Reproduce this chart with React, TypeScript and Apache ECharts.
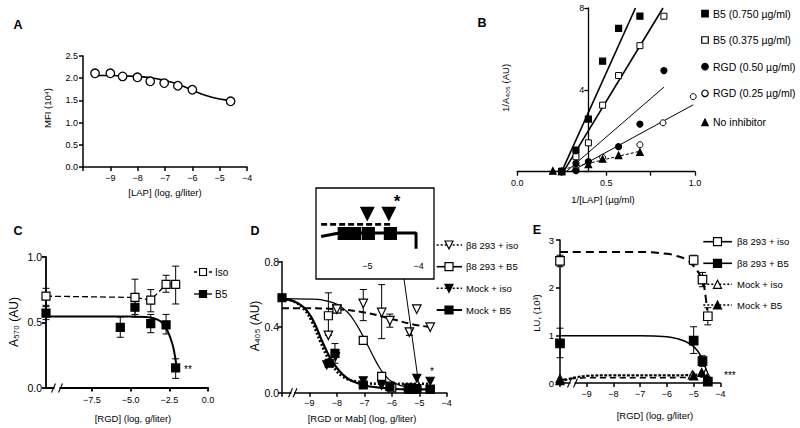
import React, { useEffect, useRef } from 'react';
import * as echarts from 'echarts';

const FONT = '"Liberation Sans", Arial, sans-serif';
const MINUS = '\u2212';

// ---------- Panel A ----------
const aLogLap = [-9.56, -9.0, -8.55, -8.01, -7.54, -7.03, -6.53, -6.0, -4.6];
const aMfi = [2.11, 2.11, 2.04, 2.02, 1.93, 1.89, 1.83, 1.74, 1.48];
const aFitX = [-9.56, -9, -8.5, -8, -7.5, -7, -6.5, -6, -5.5, -5, -4.6];
const aFitY = [2.06, 2.06, 2.05, 2.04, 2.01, 1.95, 1.86, 1.73, 1.61, 1.53, 1.5];

// ---------- Panel B ----------
const bB5hiX = [0.25, 0.33, 0.4, 0.48, 0.57, 0.69];
const bB5hiY = [0.0, 1.06, 2.57, 5.4, 7.0, 7.6];
const bB5loX = [0.25, 0.33, 0.4, 0.48, 0.57, 0.69, 0.825];
const bB5loY = [0.03, 0.73, 1.41, 3.25, 4.7, 6.16, 7.6];
const bRgd50X = [0.25, 0.33, 0.33, 0.4, 0.57, 0.69, 0.825];
const bRgd50Y = [0.0, 0.05, 0.41, 0.49, 1.22, 2.33, 4.94];
const bRgd25X = [0.33, 0.48, 0.69, 0.82, 0.99];
const bRgd25Y = [0.12, 0.7, 1.32, 2.39, 3.67];
const bNoInhX = [0.2, 0.25, 0.4, 0.48, 0.57, 0.69];
const bNoInhY = [0.04, 0.02, 0.36, 0.62, 0.8, 0.96];
const bFitB5hiX = [0.25, 0.665];
const bFitB5hiY = [0, 8];
const bFitB5loX = [0.26, 0.82];
const bFitB5loY = [0, 8];
const bFitRgd50X = [0.275, 0.825];
const bFitRgd50Y = [0, 4.13];
const bFitRgd25X = [0.3, 0.99];
const bFitRgd25Y = [0, 3.27];
const bFitNoInhX = [0.2, 0.69];
const bFitNoInhY = [0, 1.0];
const bLegend = ['B5 (0.750 \u00b5g/ml)', 'B5 (0.375 \u00b5g/ml)', 'RGD (0.50 \u00b5g/ml)', 'RGD (0.25 \u00b5g/ml)', 'No inhibitor'];

// ---------- Panel C ----------
const cXTicks = [-7.5, -5, -2.5, 0];
const cIsoX = [-10.47, -4.72, -3.7, -2.71, -2.09];
const cIsoY = [0.7, 0.69, 0.67, 0.79, 0.79];
const cIsoLo = [0.63, 0.54, 0.58, 0.73, 0.64];
const cIsoHi = [0.76, 0.83, 0.75, 0.86, 0.93];
const cB5X = [-10.47, -5.67, -4.72, -3.7, -2.71, -2.09];
const cB5Y = [0.57, 0.46, 0.615, 0.49, 0.48, 0.15];
const cB5Lo = [0.52, 0.385, 0.56, 0.42, 0.41, 0.07];
const cB5Hi = [0.62, 0.54, 0.66, 0.56, 0.56, 0.22];
const cFitX = [-10.47, -5, -4, -3.5, -3.1, -2.8, -2.6, -2.4, -2.25, -2.12, -2.05];
const cFitY = [0.545, 0.545, 0.54, 0.53, 0.51, 0.47, 0.43, 0.37, 0.31, 0.23, 0.17];
const cLegend = ['Iso', 'B5'];

// ---------- Panel D ----------
const dIsoX = [-8.31, -8.0, -7.04, -6.37, -6.07, -5.36, -5.09, -4.6];
const dIsoY = [0.35, 0.51, 0.545, 0.49, 0.44, 0.37, 0.51, 0.4];
const dB5X = [-8.31, -8.0, -7.04, -6.37, -6.0, -5.36, -5.09, -4.6];
const dB5Y = [0.47, 0.51, 0.32, 0.1, 0.03, 0.02, 0.02, 0.02];
const dMockIsoX = [-8.37, -8.05, -7.04, -6.37, -6.07, -5.36, -5.09, -4.6];
const dMockIsoY = [0.17, 0.22, 0.073, 0.045, 0.04, 0.03, 0.088, 0.07];
const dMockB5X = [-10, -8.28, -8.07, -7.04, -6.07, -5.4, -5.09, -4.6];
const dMockB5Y = [0.58, 0.18, 0.24, 0.047, 0.037, 0.027, 0.025, 0.02];
const dErrX = [-8.31, -8.07, -7.04, -6.37, -6.07, -5.36];
const dErrLo = [0.35, 0.18, 0.44, 0.33, 0.4, 0.35];
const dErrHi = [0.61, 0.3, 0.63, 0.66, 0.48, 0.39];
const dIsoFitX = [-10, -9, -8, -7, -6, -5.3, -4.6];
const dIsoFitY = [0.515, 0.515, 0.51, 0.49, 0.45, 0.42, 0.4];
const dB5FitX = [-10, -9, -8.5, -8, -7.6, -7.3, -7.0, -6.7, -6.4, -6.1, -5.7, -5.2];
const dB5FitY = [0.575, 0.572, 0.565, 0.54, 0.49, 0.42, 0.33, 0.23, 0.14, 0.08, 0.045, 0.03];
const dMockB5FitX = [-10, -9.6, -9.2, -8.86, -8.5, -8.13, -7.64, -7.04, -6.4, -5.5, -4.6];
const dMockB5FitY = [0.575, 0.56, 0.52, 0.44, 0.3, 0.18, 0.09, 0.047, 0.03, 0.02, 0.02];
const dMockIsoFitX = [-10, -9.6, -9.2, -8.9, -8.6, -8.25, -7.8, -7.2, -6.5, -5.5, -4.6];
const dMockIsoFitY = [0.575, 0.56, 0.51, 0.43, 0.31, 0.19, 0.1, 0.065, 0.055, 0.055, 0.055];
const dLegend = ['\u03b28 293 + iso', '\u03b28 293 + B5', 'Mock + iso', 'Mock + B5'];

// inset of D (zoom on -6 .. -4)
const inTicks = [-5, -4];
const inDashX = [-5.9, -4.5];
const inDashY = [0.04, 0.04];
const inSolidX = [-5.9, -5.6, -5.3, -4.05, -4.05];
const inSolidY = [0.0, 0.01, 0.012, 0.012, -0.04];
const inSqX = [-5.45, -5.25, -4.98, -4.55];
const inSqY = [0.01, 0.01, 0.01, 0.01];
const inTriX = [-5.0, -4.58];
const inTriY = [0.075, 0.075];

// ---------- Panel E ----------
const eIsoX = [-10, -5.0, -4.67, -4.47];
const eIsoY = [2.56, 2.58, 2.17, 1.4];
const eIsoLo = [2.44, 2.48, 2.02, 1.22];
const eIsoHi = [2.68, 2.68, 2.32, 1.58];
const eB5X = [-10, -5.0, -4.67, -4.47];
const eB5Y = [0.83, 0.89, 0.46, 0.03];
const eB5Lo = [0.53, 0.62, 0.35, 0.0];
const eB5Hi = [1.15, 1.18, 0.57, 0.06];
const eMockIsoX = [-10, -5.05, -4.55];
const eMockIsoY = [0.09, 0.17, 0.21];
const eMockB5X = [-10, -5.0, -4.7, -4.5];
const eMockB5Y = [0.05, 0.15, 0.22, 0.1];
const eIsoFitX = [-10, -7, -6, -5.6, -5.25, -5.0, -4.8, -4.65, -4.55, -4.5];
const eIsoFitY = [2.75, 2.75, 2.71, 2.66, 2.58, 2.45, 2.3, 2.12, 1.8, 1.53];
const eB5FitX = [-10, -7, -6, -5.6, -5.3, -5.05, -4.85, -4.7, -4.6, -4.5];
const eB5FitY = [0.99, 0.99, 0.97, 0.93, 0.87, 0.79, 0.67, 0.53, 0.4, 0.22];
const eMockB5FitX = [-10, -9.7, -9.4, -9, -8, -6, -5, -4.6];
const eMockB5FitY = [0.03, 0.08, 0.12, 0.15, 0.16, 0.16, 0.17, 0.2];
const eMockIsoFitX = [-10, -9.7, -9.3, -9, -7, -5, -4.6];
const eMockIsoFitY = [0.06, 0.09, 0.1, 0.11, 0.11, 0.12, 0.14];
const eLegend = ['\u03b28 293 + iso', '\u03b28 293 + B5', 'Mock + iso', 'Mock + B5'];

const fmtNum = (v: number, d = 0) => (v < 0 ? MINUS : '') + Math.abs(v).toFixed(d);
const pairs = (xs: number[], ys: number[]) => xs.map((x, i) => [x, ys[i]]);

function scatter(idx: number, xs: number[], ys: number[], symbol: string, size: number, filled: boolean, rotate = 0, bw = 1.2) {
  return {
    type: 'scatter', xAxisIndex: idx, yAxisIndex: idx, z: 6, clip: false,
    data: pairs(xs, ys), symbol, symbolSize: size, symbolRotate: rotate,
    itemStyle: { color: filled ? '#000' : '#fff', borderColor: '#000', borderWidth: bw, opacity: 1 },
  };
}
function line(idx: number, xs: number[], ys: number[], width: number, type: any, smooth: boolean | number = 0.4) {
  return {
    type: 'line', xAxisIndex: idx, yAxisIndex: idx, z: 4, clip: false,
    data: pairs(xs, ys), showSymbol: false, symbol: 'none', smooth,
    lineStyle: { color: '#000', width, type },
  };
}
function errs(idx: number, xs: number[], lo: number[], hi: number[], cap = 3.5) {
  return {
    type: 'custom', xAxisIndex: idx, yAxisIndex: idx, z: 3, clip: false,
    data: xs.map((x, i) => [x, lo[i], hi[i]]),
    encode: { x: 0, y: [1, 2] },
    renderItem: (_p: any, api: any) => {
      const x = api.value(0);
      const p1 = api.coord([x, api.value(2)]);
      const p2 = api.coord([x, api.value(1)]);
      const st = { stroke: '#000', lineWidth: 1 };
      return {
        type: 'group',
        children: [
          { type: 'line', shape: { x1: p1[0], y1: p1[1], x2: p2[0], y2: p2[1] }, style: st },
          { type: 'line', shape: { x1: p1[0] - cap, y1: p1[1], x2: p1[0] + cap, y2: p1[1] }, style: st },
          { type: 'line', shape: { x1: p2[0] - cap, y1: p2[1], x2: p2[0] + cap, y2: p2[1] }, style: st },
        ],
      };
    },
  };
}

const axisBase = (w: number, fs: number, margin = 5) => ({
  axisLine: { show: true, onZero: false, lineStyle: { color: '#000', width: w } },
  axisTick: { show: true, length: 4, inside: false, lineStyle: { color: '#000', width: w } },
  axisLabel: { color: '#000', fontSize: fs, fontFamily: FONT, margin },
  splitLine: { show: false },
});

function txt(x: number, y: number, text: string, size: number, opts: any = {}) {
  return {
    type: 'text', x, y, z: 50, rotation: opts.rotation || 0,
    style: {
      text, fill: '#000', font: `${opts.bold ? 'bold ' : ''}${size}px ${FONT}`,
      textAlign: opts.align || 'left', align: opts.align || 'left',
      textVerticalAlign: 'middle', verticalAlign: 'middle',
    },
  };
}
function marker(cx: number, cy: number, kind: string, filled: boolean, s: number) {
  const style = { fill: filled ? '#000' : '#fff', stroke: '#000', lineWidth: 1.2 };
  if (kind === 'rect') return { type: 'rect', z: 51, shape: { x: cx - s / 2, y: cy - s / 2, width: s, height: s }, style };
  if (kind === 'circle') return { type: 'circle', z: 51, shape: { cx, cy, r: s / 2 }, style };
  if (kind === 'tri') return { type: 'polygon', z: 51, shape: { points: [[cx, cy - s / 2], [cx + s / 2, cy + s / 2], [cx - s / 2, cy + s / 2]] }, style };
  return { type: 'polygon', z: 51, shape: { points: [[cx - s / 2, cy - s / 2], [cx + s / 2, cy - s / 2], [cx, cy + s / 2]] }, style };
}
function seg(x1: number, y1: number, x2: number, y2: number, w = 1.3, dash: any = null) {
  return { type: 'line', z: 50, shape: { x1, y1, x2, y2 }, style: { stroke: '#000', lineWidth: w, lineDash: dash } };
}
function axisBreak(xa: number, xb: number, y: number) {
  return [
    { type: 'rect', shape: { x: xa + 1.5, y: y - 2.5, width: xb - xa - 3, height: 5 }, style: { fill: '#fff' } },
    seg(xa - 1.5, y + 4.5, xa + 2.5, y - 4.5, 1.1),
    seg(xb - 2.5, y + 4.5, xb + 1.5, y - 4.5, 1.1),
  ].map((e: any) => ({ ...e, z: 60 }));
}

function buildOption(): any {
  const logFmt = (v: number) => (v <= -10 ? '' : fmtNum(v));
  const grids = [
    { left: 83, top: 56, width: 164, height: 111 },
    { left: 517.3, top: 8, width: 177.7, height: 163.7 },
    { left: 46, top: 257, width: 162, height: 130.5 },
    { left: 282, top: 261.7, width: 164.7, height: 131 },
    { left: 560, top: 240, width: 160.4, height: 143 },
    { left: 316, top: 188, width: 118, height: 91, show: true, borderColor: '#000', borderWidth: 1.3, backgroundColor: '#fff' },
  ].map((g) => ({ ...g, containLabel: false, outerBoundsMode: 'none' }));

  const xAxis = [
    { gridIndex: 0, type: 'value', min: -10, max: -4, interval: 1, ...axisBase(1.5, 9), axisLabel: { ...axisBase(1.5, 9, 6).axisLabel, formatter: logFmt } },
    { gridIndex: 1, type: 'value', min: 0, max: 1, interval: 0.25, ...axisBase(1.3, 9), axisLabel: { ...axisBase(1.3, 9, 7).axisLabel, formatter: (v: number) => (Math.abs(v * 2 - Math.round(v * 2)) < 1e-6 ? v.toFixed(1) : '') } },
    { gridIndex: 2, type: 'value', min: -10.47, max: 0, ...axisBase(1.8, 9),
      axisTick: { ...axisBase(1.8, 9).axisTick, customValues: cXTicks },
      axisLabel: { ...axisBase(1.8, 9, 8).axisLabel, customValues: cXTicks, formatter: (v: number) => fmtNum(v, 1) } },
    { gridIndex: 3, type: 'value', min: -10, max: -4, interval: 1, ...axisBase(1.5, 9), axisLabel: { ...axisBase(1.5, 9, 6).axisLabel, formatter: logFmt } },
    { gridIndex: 4, type: 'value', min: -10, max: -4, interval: 1, ...axisBase(1.5, 9), axisLabel: { ...axisBase(1.5, 9, 6).axisLabel, formatter: logFmt } },
    { gridIndex: 5, type: 'value', min: -6, max: -3.7, z: 20, axisLine: { show: false }, splitLine: { show: false },
      axisTick: { show: false, customValues: inTicks },
      axisLabel: { inside: true, margin: 9, color: '#000', fontSize: 9, fontFamily: FONT, customValues: inTicks, formatter: (v: number) => fmtNum(v) } },
  ];
  const yAxis = [
    { gridIndex: 0, type: 'value', min: 0, max: 2.5, interval: 0.5, ...axisBase(1.5, 9), axisLabel: { ...axisBase(1.5, 9).axisLabel, formatter: (v: number) => v.toFixed(1) } },
    { gridIndex: 1, type: 'value', min: 0, max: 8, interval: 4, offset: -71, ...axisBase(1.3, 9), axisLabel: { ...axisBase(1.3, 9, 4).axisLabel, formatter: (v: number) => (v === 0 ? '' : String(v)) } },
    { gridIndex: 2, type: 'value', min: 0, max: 1, interval: 0.5, ...axisBase(1.8, 10.5), axisLabel: { ...axisBase(1.8, 10.5, 4).axisLabel, formatter: (v: number) => v.toFixed(1) } },
    { gridIndex: 3, type: 'value', min: 0, max: 0.8, interval: 0.4, ...axisBase(1.5, 10.5), axisLabel: { ...axisBase(1.5, 10.5, 3).axisLabel, formatter: (v: number) => v.toFixed(1) } },
    { gridIndex: 4, type: 'value', min: 0, max: 3, interval: 1, ...axisBase(1.5, 9.5), axisLabel: { ...axisBase(1.5, 9.5, 6).axisLabel } },
    { gridIndex: 5, type: 'value', min: -0.14, max: 0.16, show: false },
  ];

  const series: any[] = [
    // A
    line(0, aFitX, aFitY, 1.6, 'solid', 0.5),
    scatter(0, aLogLap, aMfi, 'circle', 8.5, false, 0, 1.3),
    // B
    line(1, bFitB5hiX, bFitB5hiY, 1.6, 'solid', false),
    line(1, bFitB5loX, bFitB5loY, 1.6, 'solid', false),
    line(1, bFitRgd50X, bFitRgd50Y, 1, 'solid', false),
    line(1, bFitRgd25X, bFitRgd25Y, 1, 'solid', false),
    line(1, bFitNoInhX, bFitNoInhY, 1, [3, 2], false),
    scatter(1, bB5loX, bB5loY, 'rect', 6, false, 0, 1),
    scatter(1, bRgd25X, bRgd25Y, 'circle', 6, false, 0, 1),
    scatter(1, bRgd50X, bRgd50Y, 'circle', 6, true),
    scatter(1, bNoInhX, bNoInhY, 'triangle', 6.5, true),
    scatter(1, bB5hiX, bB5hiY, 'rect', 6, true),
    // C
    line(2, cIsoX, cIsoY, 1.3, [6, 3], false),
    line(2, cFitX, cFitY, 2, 'solid', 0.4),
    errs(2, cIsoX, cIsoLo, cIsoHi),
    errs(2, cB5X, cB5Lo, cB5Hi),
    scatter(2, cB5X, cB5Y, 'rect', 8, true),
    scatter(2, cIsoX, cIsoY, 'rect', 8, false),
    // D
    line(3, dIsoFitX, dIsoFitY, 2, [7, 4], 0.4),
    line(3, dB5FitX, dB5FitY, 1.2, 'solid', 0.4),
    line(3, dMockIsoFitX, dMockIsoFitY, 2.6, [2, 2], 0.4),
    line(3, dMockB5FitX, dMockB5FitY, 2.2, 'solid', 0.4),
    errs(3, dErrX, dErrLo, dErrHi),
    scatter(3, dB5X, dB5Y, 'rect', 8, false),
    scatter(3, dIsoX, dIsoY, 'triangle', 8.5, false, 180),
    scatter(3, dMockIsoX, dMockIsoY, 'triangle', 8, true, 180),
    scatter(3, dMockB5X, dMockB5Y, 'rect', 8, true),
    // inset
    line(5, inDashX, inDashY, 2.6, [6, 3], false),
    line(5, inSolidX, inSolidY, 3, 'solid', false),
    scatter(5, inSqX, inSqY, 'rect', 12, true),
    scatter(5, inTriX, inTriY, 'triangle', 13, true, 180),
    // E
    line(4, eIsoFitX, eIsoFitY, 2, [8, 5], 0.4),
    line(4, eB5FitX, eB5FitY, 1.6, 'solid', 0.4),
    line(4, eMockIsoFitX, eMockIsoFitY, 1.6, [6, 4], 0.4),
    line(4, eMockB5FitX, eMockB5FitY, 2.2, [3, 1.5], 0.4),
    errs(4, eIsoX, eIsoLo, eIsoHi),
    errs(4, eB5X, eB5Lo, eB5Hi),
    scatter(4, eMockIsoX, eMockIsoY, 'triangle', 8, false),
    scatter(4, eMockB5X, eMockB5Y, 'triangle', 8, true),
    scatter(4, eB5X, eB5Y, 'rect', 8.5, true),
    scatter(4, eIsoX, eIsoY, 'rect', 8.5, false),
  ];

  const g: any[] = [];
  // panel letters
  g.push(txt(18, 25, 'A', 12.5, { bold: true, align: 'center' }));
  g.push(txt(482, 23, 'B', 12.5, { bold: true, align: 'center' }));
  g.push(txt(18, 231, 'C', 12.5, { bold: true, align: 'center' }));
  g.push(txt(255, 231, 'D', 12.5, { bold: true, align: 'center' }));
  g.push(txt(537, 230, 'E', 12.5, { bold: true, align: 'center' }));
  // axis titles
  g.push(txt(47, 108, 'MFI (10\u2074)', 9.5, { rotation: Math.PI / 2, align: 'center' }));
  g.push(txt(165, 192, '[LAP] (log, g/liter)', 9.5, { align: 'center' }));
  g.push(txt(505, 88, '1/A\u2084\u2080\u2085 (AU)', 9.5, { rotation: Math.PI / 2, align: 'center' }));
  g.push(txt(603, 199, '1/[LAP] (\u00b5g/ml)', 9.5, { align: 'center' }));
  g.push(txt(14, 322, 'A\u2085\u2087\u2080 (AU)', 12, { rotation: Math.PI / 2, align: 'center' }));
  g.push(txt(133, 418, '[RGD] (log, g/liter)', 9.5, { align: 'center' }));
  g.push(txt(255, 326, 'A\u2084\u2080\u2085 (AU)', 12, { rotation: Math.PI / 2, align: 'center' }));
  g.push(txt(362, 418, '[RGD or Mab] (log, g/liter)', 9.5, { align: 'center' }));
  g.push(txt(536, 313, 'LU, (10\u00b3)', 9.5, { rotation: Math.PI / 2, align: 'center' }));
  g.push(txt(655, 415, '[RGD] (log, g/liter)', 9.5, { align: 'center' }));
  // significance marks
  g.push(txt(184, 369, '**', 10, { align: 'left' }));
  g.push(txt(432, 371, '*', 10, { align: 'center' }));
  g.push(txt(724, 375, '***', 10, { align: 'left' }));
  g.push(txt(397, 201, '*', 17, { align: 'center', bold: true }));
  // B legend
  const bKinds: [string, boolean][] = [['rect', true], ['rect', false], ['circle', true], ['circle', false], ['tri', true]];
  const bRows = [13.7, 40, 66.7, 93.3, 122.3];
  bLegend.forEach((t, i) => {
    g.push(marker(705, bRows[i], bKinds[i][0], bKinds[i][1], 6.5));
    g.push(txt(713, bRows[i], t, 10.5));
  });
  // C legend
  const cRows = [272, 294];
  cLegend.forEach((t, i) => {
    g.push(seg(194, cRows[i], 212, cRows[i], 1.3, i === 0 ? [3, 2] : null));
    g.push(marker(203, cRows[i], 'rect', i === 1, 7));
    g.push(txt(215, cRows[i], t, 10));
  });
  // D legend
  const dRows = [245, 266.7, 288.3, 310];
  const dKinds: [string, boolean, any, number][] = [['dtri', false, [2, 2], 1.6], ['rect', false, null, 1.6], ['dtri', true, [2, 2], 1.6], ['rect', true, null, 2]];
  dLegend.forEach((t, i) => {
    g.push(seg(436.7, dRows[i], 462, dRows[i], dKinds[i][3], dKinds[i][2]));
    g.push(marker(449, dRows[i], dKinds[i][0], dKinds[i][1], 8));
    g.push(txt(466, dRows[i], t, 9.5));
  });
  // E legend
  const eRows = [241.7, 263.3, 284.3, 305];
  const eKinds: [string, boolean, any][] = [['rect', false, null], ['rect', true, null], ['tri', false, [2, 2]], ['tri', true, [2, 2]]];
  eLegend.forEach((t, i) => {
    g.push(seg(703.3, eRows[i], 732, eRows[i], 1.6, eKinds[i][2]));
    g.push(marker(717.5, eRows[i], eKinds[i][0], eKinds[i][1], 8));
    g.push(txt(737, eRows[i], t, 9.5));
  });
  // axis breaks
  g.push(...axisBreak(53, 61, 388));
  g.push(...axisBreak(290, 295.5, 392.7));
  g.push(...axisBreak(569, 576, 383));
  // leader line from inset to main panel D
  g.push(seg(404, 279, 418.5, 382.5, 1));

  return {
    animation: false,
    backgroundColor: '#fff',
    textStyle: { fontFamily: FONT },
    grid: grids,
    xAxis,
    yAxis,
    series,
    graphic: { elements: g },
  };
}

export default function App() {
  const ref = useRef<HTMLDivElement>(null);
  useEffect(() => {
    const chart = echarts.init(ref.current as HTMLDivElement, null, { renderer: 'svg' });
    chart.setOption(buildOption());
    return () => chart.dispose();
  }, []);
  return <div ref={ref} style={{ position: 'fixed', left: 0, top: 0, width: 800, height: 428, background: '#fff' }} />;
}
